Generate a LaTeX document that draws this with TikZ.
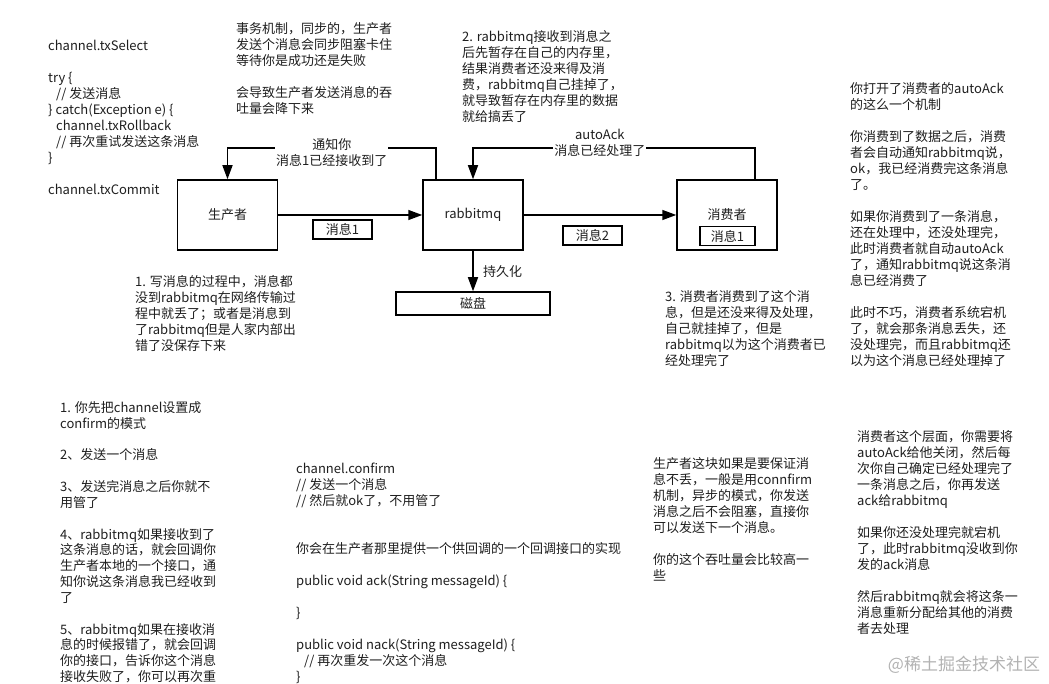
\documentclass[tikz,border=0pt]{standalone}
\usepackage{fontspec}
\setmainfont{Noto Sans CJK SC}
\usetikzlibrary{arrows.meta}
\definecolor{txt}{HTML}{1E1E1E}
\newcommand\fst{\rule{0pt}{12pt}}
\begin{document}
\begin{tikzpicture}[x=1pt,y=-1pt,
  every node/.style={font=\fontsize{13}{16}\selectfont, text=txt},
  blk/.style={anchor=north west, align=left, inner sep=0pt},
  box/.style={draw, line width=1.5pt, minimum width=100pt, minimum height=70pt, inner sep=0pt},
  tag/.style={draw, line width=1.5pt, minimum width=59pt, minimum height=19pt, inner sep=0pt},
  arr/.style={line width=1.5pt, -{Triangle[length=14pt,width=10pt]}},
  lbl/.style={fill=white, align=center, inner sep=1pt}]
\useasboundingbox (0,0) rectangle (1049,684);

% main boxes
\node[box] (prod) at (227.5,215) {生产者};
\node[box] (mq) at (473,215) {rabbitmq};
\node[box] (cons) at (727,215) {消费者};
\node[tag, minimum width=55pt] (cmsg) at (727.5,236) {消息1};
\node[draw, line width=1.5pt, minimum width=154pt, minimum height=23pt, inner sep=0pt] (disk) at (473,303.5) {磁盘};
\node[tag] (m1) at (342.5,229.5) {消息1};
\node[tag] (m2) at (592.5,235.5) {消息2};

% connectors
\draw[arr] (prod) -- (mq);
\draw[arr] (mq) -- (cons);
\draw[arr] (mq.south) -- node[right, xshift=6pt, yshift=-1pt] {持久化} (disk.north);
\draw[arr] ([xshift=-37pt]mq.north) -- ++(0,-31) -| node[lbl, pos=0.25, yshift=-4pt] {通知你\\消息1已经接收到了} (prod.north);
\draw[arr] ([xshift=28pt]cons.north) -- ++(0,-31) -| node[lbl, pos=0.275, yshift=5pt] {autoAck\\消息已经处理了} (mq.north);

% text blocks
\node[blk] (t1) at (48,38) {\fst channel.txSelect\\[16pt]
try \{\\
\hspace*{8pt}// 发送消息\\
\} catch(Exception e) \{\\
\hspace*{8pt}channel.txRollback\\
\hspace*{8pt}// 再次重试发送这条消息\\
\}\\[16pt]
channel.txCommit};

\node[blk] (t2) at (236,21) {\fst 事务机制，同步的，生产者\\
发送个消息会同步阻塞卡住\\
等待你是成功还是失败\\[16pt]
会导致生产者发送消息的吞\\
吐量会降下来};

\node[blk] (t3) at (462,29) {\fst 2. rabbitmq接收到消息之\\
后先暂存在自己的内存里，\\
结果消费者还没来得及消\\
费，rabbitmq自己挂掉了，\\
就导致暂存在内存里的数据\\
就给搞丢了};

\node[blk] (t4) at (850,81) {\fst 你打开了消费者的autoAck\\
的这么一个机制\\[16pt]
你消费到了数据之后，消费\\
者会自动通知rabbitmq说，\\
ok，我已经消费完这条消息\\
了。\\[16pt]
如果你消费到了一条消息，\\
还在处理中，还没处理完，\\
此时消费者就自动autoAck\\
了，通知rabbitmq说这条消\\
息已经消费了\\[16pt]
此时不巧，消费者系统宕机\\
了，就会那条消息丢失，还\\
没处理完，而且rabbitmq还\\
以为这个消息已经处理掉了};

\node[blk] (t5) at (135,274) {\fst 1. 写消息的过程中，消息都\\
没到rabbitmq在网络传输过\\
程中就丢了；或者是消息到\\
了rabbitmq但是人家内部出\\
错了没保存下来};

\node[blk] (t6) at (665,289) {\fst 3. 消费者消费到了这个消\\
息，但是还没来得及处理，\\
自己就挂掉了，但是\\
rabbitmq以为这个消费者已\\
经处理完了};

\node[blk, font=\fontsize{13}{15.85}\selectfont] (t7) at (60,400) {\fst 1. 你先把channel设置成\\
confirm的模式\\[15.85pt]
2、发送一个消息\\[15.85pt]
3、发送完消息之后你就不\\
用管了\\[15.85pt]
4、rabbitmq如果接收到了\\
这条消息的话，就会回调你\\
生产者本地的一个接口，通\\
知你说这条消息我已经收到\\
了\\[15.85pt]
5、rabbitmq如果在接收消\\
息的时候报错了，就会回调\\
你的接口，告诉你这个消息\\
接收失败了，你可以再次重};

\node[blk] (t8) at (296,461) {\fst channel.confirm\\
// 发送一个消息\\
// 然后就ok了，不用管了\\[32pt]
你会在生产者那里提供一个供回调的一个回调接口的实现\\[16pt]
public void ack(String messageId) \{\\[16pt]
\}\\[16pt]
public void nack(String messageId) \{\\
\hspace*{8pt}// 再次重发一次这个消息\\
\}};

\node[blk] (t9) at (653,456) {\fst 生产者这块如果是要保证消\\
息不丢，一般是用connfirm\\
机制，异步的模式，你发送\\
消息之后不会阻塞，直接你\\
可以发送下一个消息。\\[16pt]
你的这个吞吐量会比较高一\\
些};

\node[blk] (t10) at (857,429) {\fst 消费者这个层面，你需要将\\
autoAck给他关闭，然后每\\
次你自己确定已经处理完了\\
一条消息之后，你再发送\\
ack给rabbitmq\\[16pt]
如果你还没处理完就宕机\\
了，此时rabbitmq没收到你\\
发的ack消息\\[16pt]
然后rabbitmq就会将这条一\\
消息重新分配给其他的消费\\
者去处理};

\node[font=\fontsize{17}{20}\selectfont, text=black!30] (wm) at (964,665) {@稀土掘金技术社区};
\end{tikzpicture}
\end{document}
